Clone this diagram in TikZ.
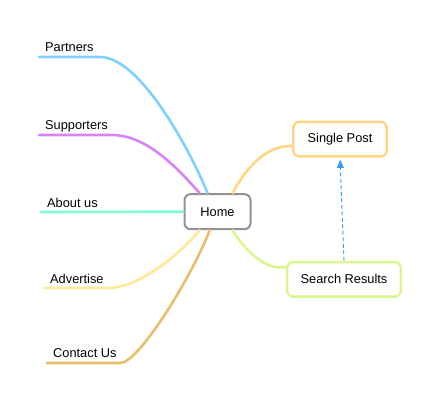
\documentclass[tikz,border=0pt]{standalone}
\usepackage{fontspec}
\setmainfont{Liberation Sans}
\usetikzlibrary{arrows,positioning}

\definecolor{partnerblue}{HTML}{7FCFFF}
\definecolor{supportpurple}{HTML}{D982F8}
\definecolor{aboutaqua}{HTML}{7FFCD2}
\definecolor{advertyellow}{HTML}{FFE89A}
\definecolor{contactorange}{HTML}{E9BD6B}
\definecolor{postorange}{HTML}{FFD582}
\definecolor{searchgreen}{HTML}{DAF78C}
\definecolor{homegray}{HTML}{929292}
\definecolor{linkblue}{HTML}{3B9AF0}

\tikzset{
	topicbox/.style={draw, rounded corners=6pt, fill=white, line width=2.4pt, font=\fontsize{12.8}{15}\selectfont, inner sep=0pt},
	branchlabel/.style={anchor=base west, inner sep=0pt, font=\fontsize{12.8}{15}\selectfont},
	branch/.style={line width=2.6pt, line cap=round}
}

\begin{document}
\begin{tikzpicture}[x=1pt,y=-1pt,>=triangle 45]
								\useasboundingbox (0,0) rectangle (444,406);
								\node[topicbox, draw=homegray, line width=2pt, minimum width=66pt, minimum height=35pt] (home) at (217.5,211.7) {Home};
								\node[topicbox, draw=postorange, minimum width=93.5pt, minimum height=34.5pt] (singlepost) at (340,139.2) {Single Post};
								\node[topicbox, draw=searchgreen, minimum width=113.5pt, minimum height=34.5pt] (searchresults) at (344,279.3) {Search Results};
								
								\coordinate (partnersL) at (39,57); \coordinate (partnersR) at (100,57);
								\coordinate (supportersL) at (39,135); \coordinate (supportersR) at (112,135);
								\coordinate (aboutL) at (41,212);
								\coordinate (advertiseL) at (44,288); \coordinate (advertiseR) at (108,288);
								\coordinate (contactL) at (47,363); \coordinate (contactR) at (120,363);
								
								\draw[branch, partnerblue] (home.118) .. controls (190,150) and (140,57) .. (partnersR) -- (partnersL);
								\draw[branch, supportpurple] (home.134) .. controls (175,165) and (145,135) .. (supportersR) -- (supportersL);
								\draw[branch, aboutaqua] (home.west) -- (aboutL);
								\draw[branch, advertyellow] (home.226) .. controls (182,252) and (140,288) .. (advertiseR) -- (advertiseL);
								\draw[branch, contactorange] (home.247) .. controls (195,270) and (140,363) .. (contactR) -- (contactL);
								\draw[branch, postorange] (home.51) .. controls (245,170) and (265,145) .. (singlepost.188);
								\draw[branch, searchgreen] (home.309) .. controls (245,250) and (265,271) .. (searchresults.168);
								
								\node[branchlabel] (partnersTxt) at (45,52) {Partners};
								\node[branchlabel] (supportersTxt) at (45,130) {Supporters};
								\node[branchlabel] (aboutTxt) at (47,207.5) {About us};
								\node[branchlabel] (advertiseTxt) at (50,283) {Advertise};
								\node[branchlabel] (contactTxt) at (53,357.5) {Contact Us};
								
								\draw[->, linkblue, line width=0.9pt, dash pattern=on 4pt off 2.5pt, shorten >=2pt] (searchresults.north) -- (singlepost.south);
\end{tikzpicture}
\end{document}
